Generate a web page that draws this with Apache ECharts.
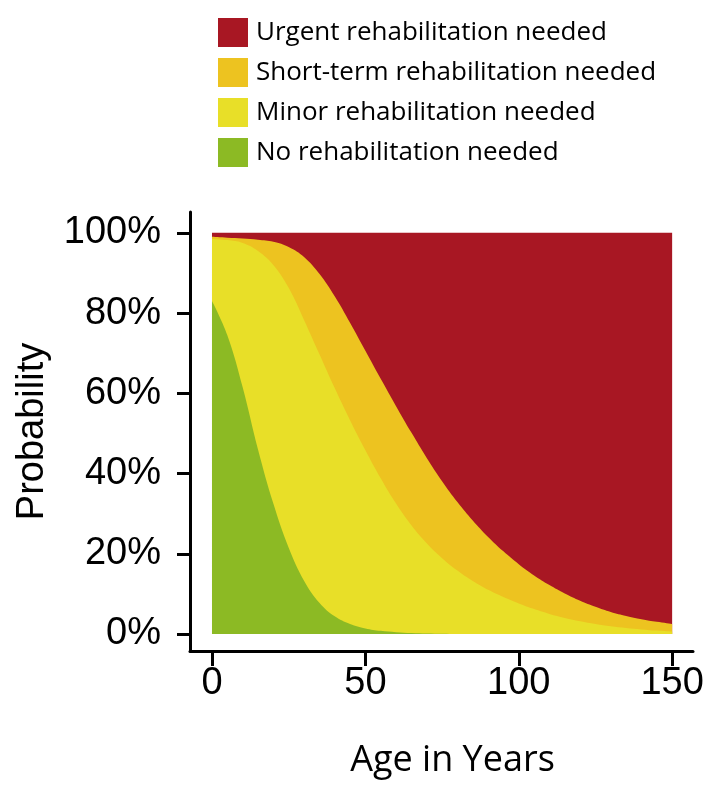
<!DOCTYPE html>
<html>
<head>
<meta charset="utf-8">
<script src="https://cdn.jsdelivr.net/npm/echarts@6/dist/echarts.min.js"></script>
<style>html,body{margin:0;padding:0;background:#fff;}#chart{width:710px;height:788px;}</style>
</head>
<body>
<div id="chart"></div>
<script>
// Age in years
var ages = [0,5,10,15,20,25,30,35,40,45,50,55,60,65,70,75,80,85,90,95,100,105,110,115,120,125,130,135,140,145,150];
// Probability (%) of each condition class at each age
var noRehab = [83,74.5,61.5,46,32.5,21.5,13.3,7.8,4.4,2.5,1.4,0.8,0.45,0.25,0.12,0.05,0,0,0,0,0,0,0,0,0,0,0,0,0,0,0];
var minorRehab = [15.5,23.7,36,49.5,59.5,64.8,65,62,56.9,50.8,44.4,38,32.05,26.85,22.48,18.85,15.8,13.2,11.0,9.2,7.6,6.2,5.0,4.0,3.2,2.5,1.95,1.5,1.15,0.85,0.6];
var shortRehab = [0.5,0.6,1.1,2.8,5.8,10.2,15.7,20,22.9,24.3,24.8,24.8,24.3,23.1,21.3,19.2,17.1,15.1,13.2,11.4,9.8,8.4,7.2,6.1,5.1,4.3,3.55,3.0,2.55,2.2,1.9];
var urgentRehab = [1,1.2,1.4,1.7,2.2,3.5,6.0,10.2,15.8,22.4,29.4,36.4,43.2,49.8,56.1,61.9,67.1,71.7,75.8,79.4,82.6,85.4,87.8,89.9,91.7,93.2,94.5,95.5,96.3,96.95,97.5];
var xTicks = [0,50,100,150];
var yTicks = [0,20,40,60,80,100];
// legend / drawing order: top class first
var names = ['Urgent rehabilitation needed','Short-term rehabilitation needed','Minor rehabilitation needed','No rehabilitation needed'];
var colors = ['#A81723','#EDC320','#E8DF28','#8CBA24'];
var classes = [urgentRehab, shortRehab, minorRehab, noRehab];

// cumulative probability of being in this class or a better one (stack from the bottom)
function cumulative(k){
  return ages.map(function(a,i){
    var s = 0;
    for (var j = k; j < classes.length; j++) s += classes[j][i];
    return [a, Math.min(100, s)];
  });
}

var series = classes.map(function(v,k){
  return {
    name: names[k],
    type: 'line',
    smooth: 0.4,
    showSymbol: false,
    symbol: 'none',
    color: colors[k],
    itemStyle: {color: colors[k]},
    lineStyle: {width: 0},
    areaStyle: {color: colors[k], opacity: 1, origin: 0},
    emphasis: {disabled: true},
    z: 2 + k,
    data: cumulative(k)
  };
});

var chart = echarts.init(document.getElementById('chart'), null, {renderer: 'canvas'});
chart.setOption({
  animation: false,
  backgroundColor: '#fff',
  legend: {
    orient: 'vertical',
    left: 213,
    top: 13,
    icon: 'rect',
    itemWidth: 30,
    itemHeight: 29,
    itemGap: 11,
    data: names,
    textStyle: {fontFamily: 'Open Sans', fontSize: 26, color: '#000', padding: [0,0,0,3]}
  },
  grid: {left: 190, right: 17, top: 212, bottom: 137, containLabel: false},
  xAxis: {
    type: 'value',
    min: -7.17,
    max: 156.8,
    name: 'Age in Years',
    nameLocation: 'middle',
    nameGap: 92,
    nameTextStyle: {fontFamily: 'Open Sans', fontSize: 36, color: '#000', padding: [0,0,0,22]},
    axisLine: {show: true, onZero: false, lineStyle: {color: '#000', width: 3}},
    axisTick: {show: true, length: 15, lineStyle: {color: '#000', width: 3}, customValues: xTicks},
    axisLabel: {margin: 14, fontFamily: 'Liberation Sans', fontSize: 38, color: '#000', customValues: xTicks},
    splitLine: {show: false}
  },
  yAxis: {
    type: 'value',
    min: -4.24,
    max: 105.2,
    name: 'Probability',
    nameLocation: 'middle',
    nameGap: 138,
    nameTextStyle: {fontFamily: 'Liberation Sans', fontSize: 38, color: '#000'},
    axisLine: {show: true, onZero: false, lineStyle: {color: '#000', width: 3}},
    axisTick: {show: true, length: 13, lineStyle: {color: '#000', width: 3}, customValues: yTicks},
    axisLabel: {margin: 29, fontFamily: 'Liberation Sans', fontSize: 38, color: '#000', formatter: '{value}%', customValues: yTicks},
    splitLine: {show: false}
  },
  series: series
});
</script>
</body>
</html>
